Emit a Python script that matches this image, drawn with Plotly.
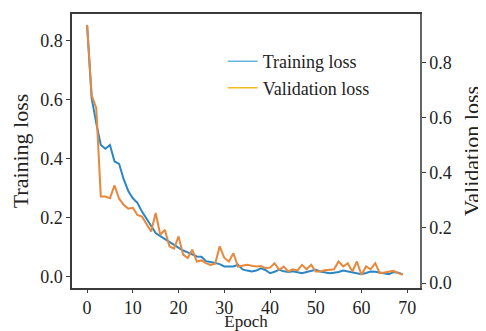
import plotly.graph_objects as go

epochs = list(range(70))
training_loss = [0.853, 0.605, 0.52, 0.446, 0.433, 0.446, 0.39, 0.382, 0.33, 0.29,
                 0.265, 0.25, 0.22, 0.195, 0.17, 0.147, 0.137, 0.127, 0.118, 0.105,
                 0.097, 0.088, 0.082, 0.076, 0.068, 0.067, 0.052, 0.049, 0.045, 0.042,
                 0.034, 0.034, 0.034, 0.04, 0.024, 0.02, 0.017, 0.02, 0.028, 0.022,
                 0.011, 0.016, 0.023, 0.018, 0.015, 0.018, 0.015, 0.011, 0.015, 0.02,
                 0.023, 0.017, 0.013, 0.011, 0.013, 0.015, 0.02, 0.017, 0.015, 0.013,
                 0.008, 0.012, 0.017, 0.016, 0.013, 0.011, 0.008, 0.015, 0.013, 0.008]
validation_loss = [0.936, 0.68, 0.635, 0.314, 0.314, 0.308, 0.354, 0.306, 0.284, 0.27,
                   0.273, 0.247, 0.241, 0.215, 0.187, 0.254, 0.175, 0.193, 0.133, 0.125,
                   0.169, 0.103, 0.091, 0.121, 0.078, 0.082, 0.072, 0.066, 0.07, 0.133,
                   0.091, 0.078, 0.108, 0.06, 0.062, 0.066, 0.063, 0.06, 0.062, 0.054,
                   0.056, 0.072, 0.048, 0.06, 0.042, 0.05, 0.046, 0.066, 0.05, 0.066,
                   0.042, 0.042, 0.046, 0.048, 0.05, 0.078, 0.06, 0.072, 0.042, 0.078,
                   0.03, 0.06, 0.05, 0.072, 0.036, 0.038, 0.042, 0.044, 0.036, 0.03]
x_ticks = [0, 10, 20, 30, 40, 50, 60, 70]
y_ticks = [0.0, 0.2, 0.4, 0.6, 0.8]

FONT = "Liberation Serif, Times New Roman, serif"
AX = "#3a3a3a"

fig = go.Figure()
fig.add_trace(go.Scatter(x=epochs, y=training_loss, mode="lines",
                         line=dict(color="#2b86c5", width=2), showlegend=False, yaxis="y"))
fig.add_trace(go.Scatter(x=epochs, y=validation_loss, mode="lines",
                         line=dict(color="#e8883c", width=2), showlegend=False, yaxis="y2"))
# legend entries
fig.add_trace(go.Scatter(x=[None], y=[None], mode="lines", name="Training loss",
                         line=dict(color="#66b4e0", width=1.5)))
fig.add_trace(go.Scatter(x=[None], y=[None], mode="lines", name="Validation loss",
                         line=dict(color="#f2bb1c", width=1.5)))

fig.update_layout(
    width=478, height=323,
    margin=dict(l=64, r=66, t=6, b=43),
    paper_bgcolor="white", plot_bgcolor="white",
    font=dict(family=FONT, size=18, color="#222"),
    xaxis=dict(range=[-3.3, 72.8], tickvals=x_ticks, showgrid=False, zeroline=False,
               showline=True, linecolor=AX, linewidth=1.5, mirror=True,
               ticks="outside", ticklen=3, tickcolor=AX, automargin=False,
               title=dict(text="Epoch", standoff=17, font=dict(size=17))),
    yaxis=dict(range=[-0.039, 0.89], tickvals=y_ticks, tickformat=".1f",
               showgrid=False, zeroline=False, showline=True, linecolor=AX, linewidth=1.5,
               ticks="outside", ticklen=4, tickcolor=AX, automargin=False,
               title=dict(text="Training loss", standoff=14)),
    yaxis2=dict(range=[-0.018, 0.976], tickvals=y_ticks, tickformat=".1f",
                overlaying="y", side="right", showgrid=False, zeroline=False,
                showline=True, linecolor="#666", linewidth=1.5,
                ticks="outside", ticklen=4, tickcolor=AX, automargin=False,
                title=dict(text="Validation loss", standoff=13)),
    legend=dict(x=0.433, y=0.894, xanchor="left", yanchor="top",
                bgcolor="rgba(0,0,0,0)", borderwidth=0, font=dict(size=18),
                tracegroupgap=0),
)

fig.write_html("out.html")
